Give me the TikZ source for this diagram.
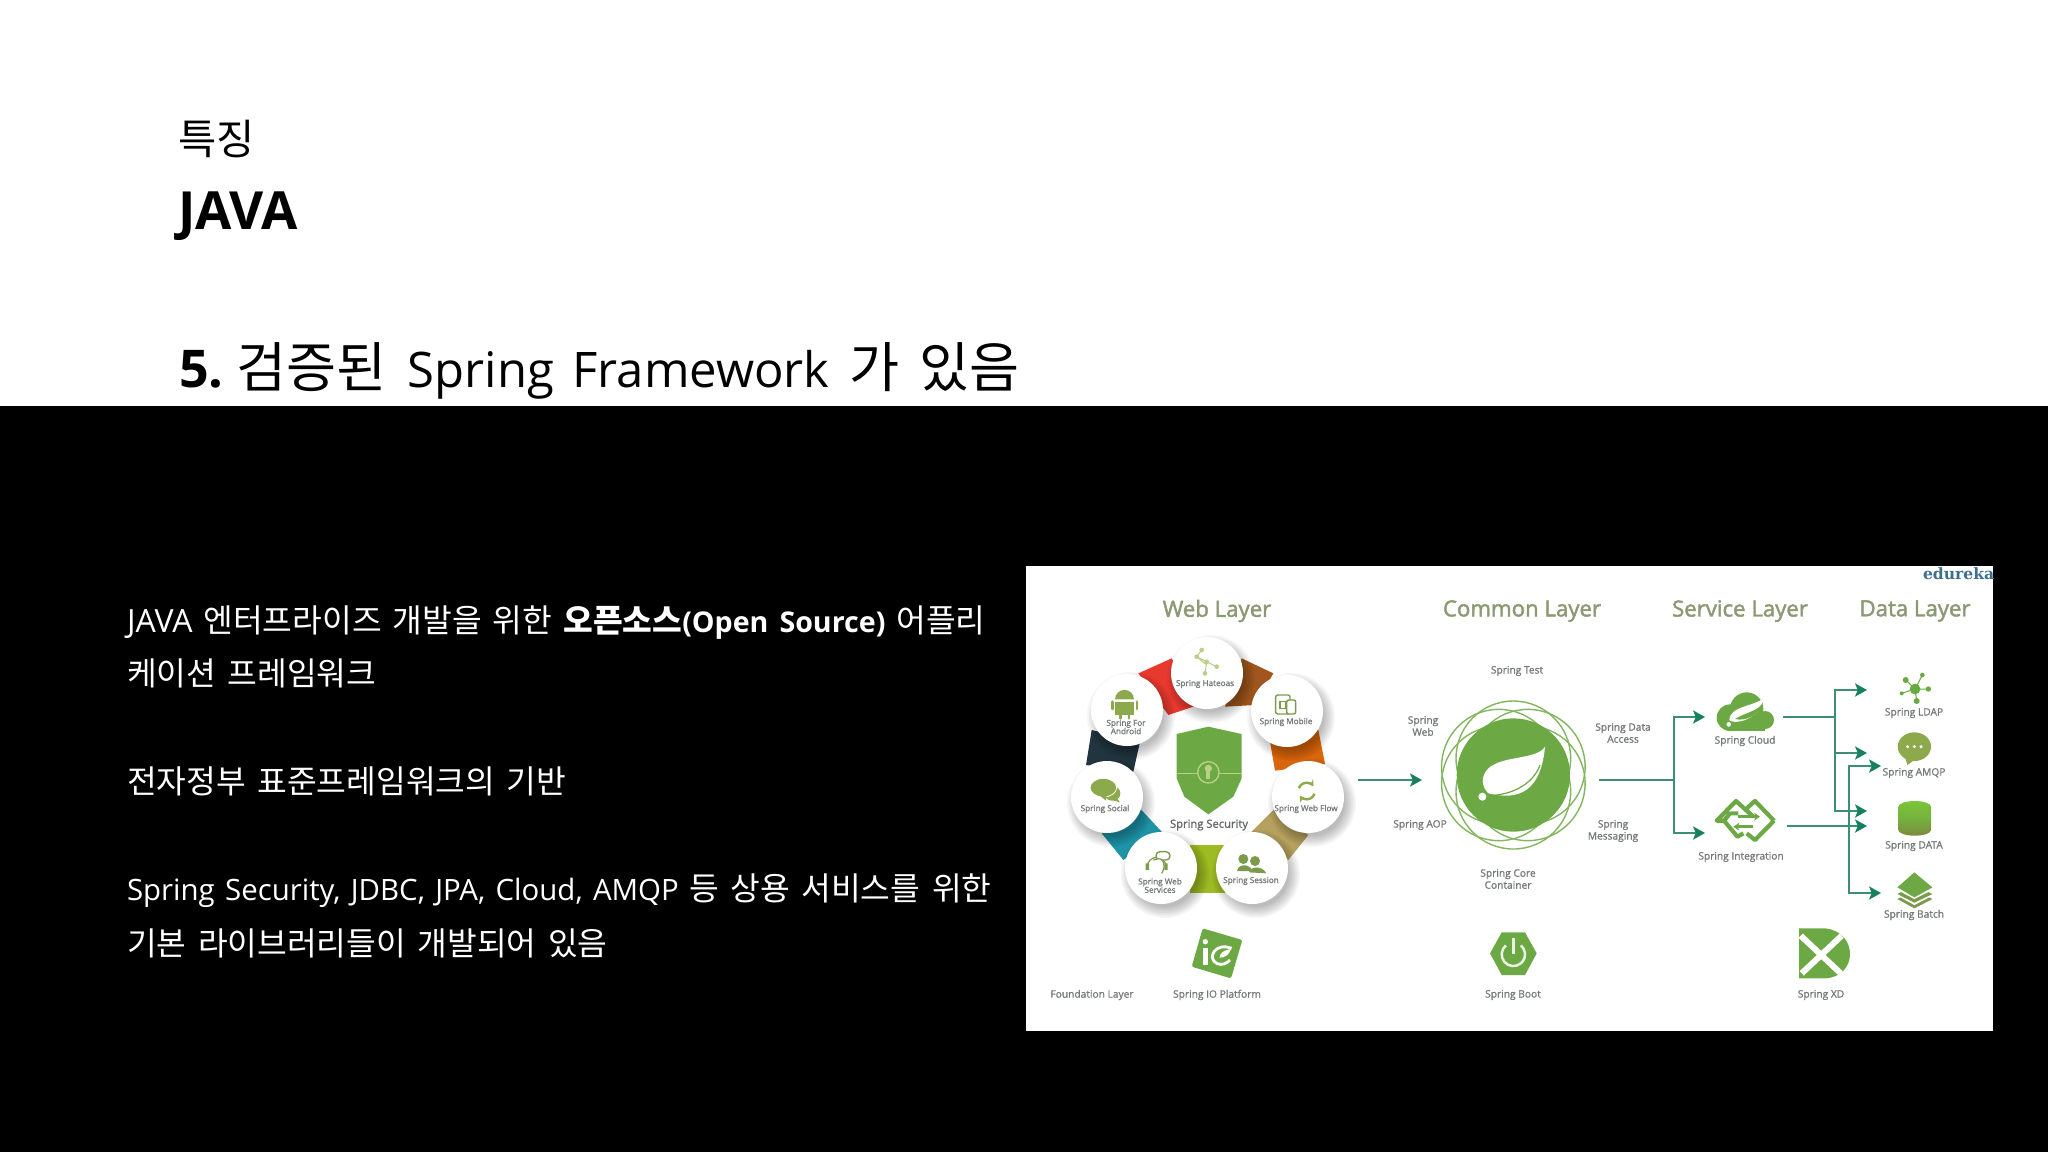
\documentclass[tikz,border=0pt]{standalone}
\usepackage{fontspec}
\setmainfont{Open Sans}
\newfontfamily\kr{Noto Sans CJK KR}
\newfontfamily\serifb{DejaVu Serif}
\newfontfamily\osb[FakeBold=2]{Open Sans}
\newfontfamily\osl[FakeBold=1.2]{Open Sans}
\usetikzlibrary{arrows.meta,calc}
\definecolor{sgreen}{HTML}{6CA944}
\definecolor{sdark}{HTML}{7C9A4C}
\definecolor{sicon}{HTML}{8CAA4C}
\definecolor{head}{HTML}{8C9A74}
\definecolor{conn}{HTML}{3D8F74}
\definecolor{tip}{HTML}{17805F}
\definecolor{lab}{HTML}{767A78}
\definecolor{pale}{HTML}{B9CF86}
\definecolor{edu}{HTML}{3F6F8F}
\definecolor{HTMLred}{HTML}{E8392F}
\definecolor{HTMLbrown}{HTML}{A0561C}
\definecolor{HTMLorange}{HTML}{D9650C}
\definecolor{HTMLtan}{HTML}{B5A05E}
\definecolor{HTMLlime}{HTML}{9DBB22}
\definecolor{HTMLteal}{HTML}{1F93A8}
\definecolor{HTMLnavy}{HTML}{22343F}
\definecolor{cyltop}{HTML}{7CC53A}
\definecolor{cylbot}{HTML}{7B8A3E}
\newcommand{\fs}[1]{\fontsize{#1}{#1}\selectfont}
\tikzset{
  x=.5pt,y=-.5pt,
  zA/.style={shift={(1025,565)},x=.16667pt,y=-.16667pt},
  zB/.style={shift={(1340,565)},x=.16667pt,y=-.16667pt},
  zC/.style={shift={(1650,565)},x=.16667pt,y=-.16667pt},
  bs/.style={inner sep=0pt,outer sep=0pt},
  hd/.style={bs,font=\osb\fs{11.1},text=head,anchor=center,yshift=-1.5pt},
  lb/.style={bs,font=\osl\fontsize{5.1}{6}\selectfont,text=lab,anchor=center,align=center,yshift=-.5pt},
  cl/.style={bs,font=\osl\fontsize{4.1}{4.2}\selectfont,text=lab,anchor=center,align=center},
  tx/.style={bs,anchor=base west,text=white,font=\fs{14.7}},
  txk/.style={bs,anchor=base west,text=white,font=\kr\fs{16.15}},
  ttl/.style={bs,anchor=base west,text=black,font=\fs{24.5}},
  wire/.style={draw=conn,line width=.85pt},
  arw/.style={wire,-{Stealth[length=6pt,width=6.6pt,inset=1.4pt,color=tip]}},
  disc/.style={circle,fill=white,draw=none,minimum size=36pt,inner sep=0pt},
}
\newcommand{\softshadow}[3]{% x y r (px)
  \foreach \k in {0,...,7}{
    \fill[black,opacity=.035] (#1+4,#2+6) circle[radius=(#3+8-\k*1.6)*.5pt];
  }
}
\begin{document}
\begin{tikzpicture}
\useasboundingbox (0,0) rectangle (2048,1152);
\fill[white] (0,0) rectangle (2048,406);
\fill[black] (0,406) rectangle (2048,1152);
% ---- slide text
\node[ttl,font=\kr\fs{20.8}] (t1) at (178,154) {특징};
\node[ttl,font=\bfseries\fs{26.3}] (t2) at (178,229) {JAVA};
\node[ttl] (t3) at (179,387) {\spaceskip=10pt\textbf{\fs{26}5.}\hspace{6.6pt}{\kr\fs{27.2}검증된}\hspace{10.5pt}Spring\hspace{9.2pt}Framework\hspace{9.8pt}{\kr\fs{27.2}가 있음}};
\node[tx] (b1) at (127,632) {\spaceskip=5.5pt {\fs{16}JAVA} {\kr\fs{16.15}엔터프라이즈 개발을 위한} {\kr\fs{16.15}\bfseries 오픈소스}\textbf{\fs{14.3}(Open Source)} {\kr\fs{16.15}어플리}};
\node[txk] (b2) at (127,685) {\spaceskip=5.8pt 케이션 프레임워크};
\node[txk] (b3) at (127,793) {\spaceskip=5.8pt 전자정부 표준프레임워크의 기반};
\node[tx] (b4) at (127,900) {\spaceskip=5.2pt Spring Security, JDBC, JPA, Cloud, AMQP {\kr\fs{16.15}\spaceskip=5.8pt 등 상용 서비스를 위한}};
\node[txk] (b5) at (127,955) {\spaceskip=5.8pt 기본 라이브러리들이 개발되어 있음};
% ---- embedded figure
\fill[white] (1026,566) rectangle (1993,1031);
\node[hd] (hw) at (1217,608) {Web Layer};
\node[hd] (hc) at (1522,608) {Common Layer};
\node[hd] (hs) at (1740,608) {Service Layer};
\node[hd] (hl) at (1915,608) {Data Layer};
\begin{scope}
\clip (1026,566) rectangle (1993,1031);
\node[bs,anchor=west,text=edu,font=\serifb\bfseries\fs{7.8}] (edu) at (1923,574) {edureka!};
\end{scope}
% ring segments
\begin{scope}[zA]
\fill[HTMLred] (340,325)--(440,280)--(520,420)--(430,450)--cycle;
\fill[HTMLbrown] (650,280)--(745,325)--(690,420)--(600,425)--cycle;
\fill[HTMLorange] (880,495)--(900,597)--(750,617)--(735,530)--cycle;
\fill[HTMLtan] (745,735)--(850,810)--(790,885)--(680,800)--cycle;
\fill[HTMLlime] (495,840)--(600,840)--(600,985)--(495,985)--cycle;
\fill[HTMLteal] (340,725)--(410,800)--(295,885)--(230,805)--cycle;
\fill[HTMLnavy] (200,495)--(345,530)--(325,620)--(183,600)--cycle;
\end{scope}
% discs
\foreach \nm/\x/\y in {dh/1207/673,dm/1287/711,df/1308/797,ds/1252/868,dw/1161/868,dc/1107/797,da/1127/710}{
  \softshadow{\x}{\y}{36}
  \node[disc] (\nm) at (\x,\y) {};
}
\begin{scope}[zA]
% Hateoas
\draw[pale,line width=.5pt] (530,255)--(515,275)--(545,290)--(540,325) (545,290)--(575,305) (515,275)--(545,300);
\foreach \p in {(530,255),(515,275),(545,290),(540,325),(575,305)} \fill[pale] \p circle[radius=7];
% Android
\fill[sicon] (270,410) rectangle (327,450);
\fill[sicon] (270,403) arc[start angle=180,end angle=360,radius=28.5] --cycle;
\draw[sicon,line width=1.3pt,line cap=round] (262,410)--(262,432) (336,410)--(336,432) (286,450)--(286,460) (312,450)--(312,460);
% Mobile
\draw[sdark,line width=.7pt,rounded corners=1pt] (752,390) rectangle (795,447);
\draw[sdark,line width=.7pt,fill=white,rounded corners=1pt] (785,405) rectangle (812,447);
\draw[sdark,line width=.6pt] (765,410) rectangle (782,430);
% Web flow
\draw[sicon,line width=1.2pt,-{Stealth[length=3pt,width=3.6pt]}] ($(845,678)+(200:25)$) arc[start angle=200,end angle=325,radius=25];
\draw[sicon,line width=1.2pt,-{Stealth[length=3pt,width=3.6pt]}] ($(845,678)+(20:25)$) arc[start angle=20,end angle=145,radius=25];
% Session
\fill[sdark] (690,888) circle[radius=15] (655,882) circle[radius=15];
\fill[sdark] (636,918) .. controls (640,895) and (675,895) .. (682,918) --cycle;
\fill[sdark] (672,922) .. controls (678,902) and (712,902) .. (724,925) --cycle;
% Web services
\draw[sdark,line width=.6pt] (367,905) arc[start angle=180,end angle=360,radius=28];
\fill[sdark] (362,895) rectangle (372,915) (418,895) rectangle (428,915);
\draw[sdark,line width=.7pt,rounded corners=2pt,fill=white] (393,860) rectangle (435,885);
\draw[sdark,line width=.6pt,rounded corners=2pt,fill=white] (385,885)--(410,878)--(420,905)--(410,925);
% Social
\fill[sicon] (262,685) ellipse[x radius=24,y radius=22];
\fill[sicon] (272,695)--(285,712)--(255,703)--cycle;
\fill[sicon,draw=white,line width=.4pt] (235,668) ellipse[x radius=40,y radius=28];
\fill[sicon] (222,690)--(242,706)--(245,690)--cycle;
% Shield
\fill[sgreen] (455,507)--(550,485)--(650,507)--(650,640)--(625,695)--(550,748)--(478,695)--(455,640)--cycle;
\draw[pale,line width=.7pt] (455,625)--(518,625) (582,625)--(650,625);
\draw[pale,line width=.7pt] (550,622) circle[radius=32];
\fill[pale] (550,610) circle[radius=11];
\fill[pale] (544,612) rectangle (556,642);
% iO icon
\fill[sgreen,rounded corners=1pt] (533,1090)--(652,1125)--(618,1240)--(500,1205)--cycle;
\fill[white] (541,1130) circle[radius=8];
\fill[white] (534,1150) rectangle (548,1200);
\draw[white,line width=1.4pt] (620,1150) .. controls (570,1130) and (545,1180) .. (575,1195) .. controls (590,1203) and (605,1195) .. (615,1185);
\fill[white] (618,1152) .. controls (595,1155) and (585,1165) .. (583,1178) .. controls (600,1178) and (612,1170) .. (618,1152) --cycle;
\end{scope}
\node[cl] (l1) at (1205,684) {Spring Hateoas};
\node[cl] (l2) at (1286,722) {Spring Mobile};
\node[cl] (l3) at (1306,809) {Spring Web Flow};
\node[cl] (l4) at (1251,881) {Spring Session};
\node[cl] (l5) at (1160,885.5) {Spring Web\\Services};
\node[cl] (l6) at (1105,809) {Spring Social};
\node[cl] (l7) at (1126,727) {Spring For\\Android};
\node[lb,font=\osl\fs{5.6},text=lab!85!black] (l8) at (1209,824) {Spring Security};
\node[lb] (l9) at (1092,994) {Foundation Layer};
\node[lb] (l10) at (1217,994) {Spring IO Platform};
% Common
\begin{scope}[zB]
\foreach \a in {0,60,...,300}{
  \draw[sgreen!85!white,line width=.7pt] ($(520,630)+(\a+30:50)$) circle[radius=172];
}
\fill[sgreen] (520,630) circle[radius=170];
\fill[white] (615,545) .. controls (590,585) and (490,570) .. (445,610) .. controls (420,635) and (425,665) .. (445,685) .. controls (510,700) and (600,705) .. (615,545) --cycle;
\draw[sgreen,line width=.6pt] (445,692) .. controls (520,690) and (580,655) .. (600,600);
\fill[white] (427,695) circle[radius=12];
% Boot
\fill[sgreen] (450,1165)--(485,1102)--(555,1102)--(590,1165)--(555,1230)--(485,1230)--cycle;
\draw[white!85!sgreen,line width=1.25pt] ($(520,1168)+(230:35)$) arc[start angle=230,end angle=-50,radius=35];
\draw[white!85!sgreen,line width=1.6pt] (520,1120)--(520,1168);
\end{scope}
\node[lb] (c1) at (1517,670) {Spring Test};
\node[lb] (c2) at (1423,725) {Spring\\Web};
\node[lb] (c3) at (1420,824) {Spring AOP};
\node[lb] (c4) at (1623,732) {Spring Data\\Access};
\node[lb] (c5) at (1613,830) {Spring\\Messaging};
\node[lb] (c6) at (1508,878) {Spring Core\\Container};
\node[lb] (c7) at (1513,994) {Spring Boot};
% Service and data icons
\begin{scope}[zC]
% cloud
\fill[sgreen] (240,458) circle[radius=40] (290,432) circle[radius=50] (345,465) circle[radius=27];
\fill[sgreen] (240,470) rectangle (345,498);
\fill[white] (345,395) .. controls (320,425) and (240,420) .. (238,465) .. controls (240,475) and (320,480) .. (345,395) --cycle;
\fill[sgreen] (340,410) .. controls (325,440) and (290,440) .. (255,462) .. controls (290,470) and (325,450) .. (340,410) --cycle;
\fill[white] (236,478) circle[radius=7];
% integration
\draw[sgreen,line width=2.1pt,line join=round] (265,745)--(240,745)--(222,767)--(262,815)--(280,805) (222,767)--(200,767)--(258,708)--(310,755);
\draw[sgreen,line width=2.1pt,line join=round] (372,767)--(315,708)--(290,730) (290,805)--(315,825)--(372,767);
\draw[sgreen,line width=1.4pt,-{Stealth[length=3pt,width=4pt]}] (310,785)--(250,785);
\draw[sgreen,line width=1.4pt,-{Stealth[length=3pt,width=4pt]}] (265,755)--(330,755);
% LDAP
\draw[sdark!80!green,line width=.5pt] (767,345)--(795,372)--(817,330) (795,372)--(835,372) (795,372)--(800,408) (795,372)--(755,385);
\fill[sdark!85!green] (795,372) circle[radius=16];
\foreach \p/\r in {(767,345)/9,(817,330)/7,(835,372)/8,(800,408)/9,(755,385)/6} \fill[sdark!85!green] \p circle[radius=\r];
% AMQP
\fill[sicon] (793,545) ellipse[x radius=50,y radius=43];
\fill[sicon] (765,575)--(772,600)--(800,580)--cycle;
\fill[white] (773,545) circle[radius=5] (793,545) circle[radius=5] (813,545) circle[radius=5];
% cylinder
\shade[top color=cyltop,bottom color=cylbot,middle color=sgreen!90!lime] (745,725) arc[start angle=180,end angle=360,x radius=49,y radius=17] -- (843,795) arc[start angle=0,end angle=180,x radius=49,y radius=17] --cycle;
% batch
\fill[sdark] (742,1002)--(793,975)--(847,1002)--(793,1030)--cycle;
\fill[white] (742,992)--(793,965)--(847,992)--(793,1020)--cycle;
\fill[sdark] (742,987)--(793,960)--(847,987)--(793,1013)--cycle;
\fill[white] (742,975)--(793,950)--(847,975)--(793,1002)--cycle;
\fill[sgreen] (742,967)--(793,922)--(847,967)--(793,997)--cycle;
% XD
\fill[sgreen] (447,1090)--(525,1090) .. controls (625,1100) and (625,1235) .. (525,1240) --(447,1240)--cycle;
\draw[white,line width=3pt] (452,1112)--(572,1225) (575,1112)--(455,1225);
\end{scope}
\node[lb] (s1) at (1745,740) {Spring Cloud};
\node[lb] (s2) at (1741,856) {Spring Integration};
\node[lb] (s3) at (1914,712) {Spring LDAP};
\node[lb] (s4) at (1914,772) {Spring AMQP};
\node[lb] (s5) at (1914,845) {Spring DATA};
\node[lb] (s6) at (1914,914) {Spring Batch};
\node[lb] (s7) at (1821,994) {Spring XD};
% ---- connectors
\coordinate (webout) at (1358,780);
\coordinate (corein) at (1422,780);
\coordinate (coreout) at (1599,780);
\coordinate (fork) at (1674,780);
\coordinate (cloudin) at (1705,717);
\coordinate (intin) at (1705,833);
\coordinate (cloudout) at (1783,717);
\coordinate (cfork) at (1835,717);
\coordinate (toldap) at (1867,690);
\coordinate (toamqp) at (1867,753);
\coordinate (todata) at (1867,811);
\coordinate (intout) at (1787,826);
\coordinate (todata2) at (1867,826);
\coordinate (ifork) at (1849,826);
\coordinate (toamqp2) at (1881,766);
\coordinate (tobatch) at (1881,893);
\draw[arw] (webout)--(corein);
\draw[wire] (coreout)--(fork);
\draw[arw] (fork)|-(cloudin);
\draw[arw] (fork)|-(intin);
\draw[wire] (cloudout)--(cfork);
\draw[arw] (cfork)|-(toldap);
\draw[arw] (cfork)|-(toamqp);
\draw[arw] (cfork)|-(todata);
\draw[arw] (intout)--(todata2);
\draw[arw] (ifork)|-(toamqp2);
\draw[arw] (ifork)|-(tobatch);
\end{tikzpicture}
\end{document}
